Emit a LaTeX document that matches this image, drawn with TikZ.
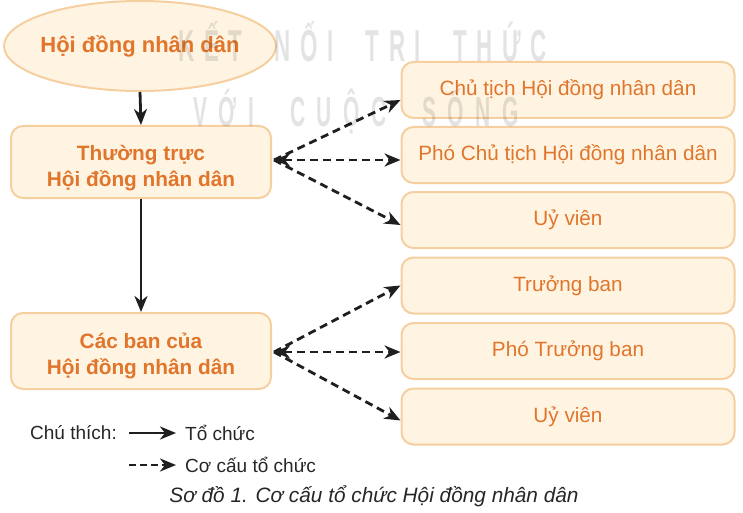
\documentclass[tikz,border=0pt]{standalone}
\usepackage{fontspec}
\setmainfont{Liberation Sans}
\usetikzlibrary{arrows.meta,shapes.geometric,calc}
\definecolor{boxfill}{HTML}{FFF4E2}
\definecolor{boxline}{HTML}{F5CFA0}
\definecolor{txtor}{HTML}{E0752B}
\newcommand{\wmgap}{\hspace{19pt}}
\newcommand{\wmword}{\hspace{65pt}}
\newcommand{\wmgapb}{\hspace{23pt}}
\newcommand{\wmwordb}{\hspace{72pt}}
\tikzset{
  lbox/.style={draw=boxline, line width=2pt, fill=boxfill, rounded corners=12pt,
    minimum width=260pt, align=center, text=txtor, font=\fontsize{20.8}{26}\selectfont\bfseries},
  rbox/.style={draw=boxline, line width=2pt, fill=boxfill, rounded corners=12pt,
    minimum width=333pt, minimum height=56pt, text=txtor, font=\fontsize{20.7}{24}\selectfont},
  tip/.tip={Stealth[length=16pt,width=13pt,inset=5pt]},
  orgarrow/.style={line width=2.8pt, draw=black!88, -tip},
  cauarrow/.style={line width=2.8pt, draw=black!88, dash pattern=on 8pt off 5pt, -tip},
  legtext/.style={anchor=west, text=black!85, font=\fontsize{19}{22}\selectfont, inner sep=0pt},
  wmtext/.style={anchor=base, text=black, text opacity=0.11, inner sep=0pt, font=\bfseries}
}
\begin{document}
\begin{tikzpicture}[x=1pt,y=-1pt]
\useasboundingbox (0,0) rectangle (743,513);
% nodes
\node[ellipse, draw=boxline, line width=2pt, fill=boxfill, inner xsep=-12pt, inner ysep=0pt,
  minimum width=272pt, minimum height=90pt, text=txtor,
  font=\fontsize{22}{25}\selectfont\bfseries] (hd) at (140,46) {Hội đồng nhân dân};
\node[lbox, minimum height=72pt] (tt) at (141,162) {\rule{0pt}{28pt}Thường trực\\Hội đồng nhân dân};
\node[lbox, minimum height=76pt] (cb) at (141,351) {\rule{0pt}{25pt}Các ban của\\Hội đồng nhân dân};
\node[rbox] (r1) at (568,90) {Chủ tịch Hội đồng nhân dân};
\node[rbox] (r2) at (568,155) {Phó Chủ tịch Hội đồng nhân dân};
\node[rbox] (r3) at (568,220) {Uỷ viên};
\node[rbox] (r4) at (568,285.5) {Trưởng ban};
\node[rbox] (r5) at (568,351) {Phó Trưởng ban};
\node[rbox] (r6) at (568,416.5) {Uỷ viên};
% solid arrows
\draw[orgarrow] (hd.south) -- (tt.north);
\draw[orgarrow] (tt.south) -- (cb.north);
% dashed arrows
\coordinate (o1) at ([xshift=2pt,yshift=2pt]tt.east);
\coordinate (o2) at ([xshift=2pt,yshift=-1pt]cb.east);
\draw[cauarrow] (o1) -- ([yshift=-10pt]r1.west);
\draw[cauarrow, tip-tip] (o1) -- (r2.west |- o1);
\draw[cauarrow] (o1) -- ([yshift=-5pt]r3.west);
\draw[cauarrow] (o2) -- (r4.west);
\draw[cauarrow, tip-tip] (o2) -- (r5.west |- o2);
\draw[cauarrow] (o2) -- ([yshift=-4pt]r6.west);
% legend
\node[legtext] (ct) at (30,433) {Chú thích:};
\coordinate (l1a) at (129,433);
\coordinate (l1b) at (176,433);
\coordinate (l2a) at (129,465);
\coordinate (l2b) at (176,465);
\draw[orgarrow] (l1a) -- (l1b);
\draw[cauarrow, dash pattern=on 7pt off 4pt] (l2a) -- (l2b);
\node[legtext] (t1) at (185,433) {Tổ chức};
\node[legtext] (t2) at (185,465) {Cơ cấu tổ chức};
% caption
\node[text=black!85, font=\fontsize{20.8}{24}\selectfont\itshape, inner sep=0pt] (cap) at (374,496) {Sơ đồ 1. Cơ cấu tổ chức Hội đồng nhân dân};
% watermark
\node[wmtext] (wm1) at (362.5,62) {\scalebox{0.5}[1]{\fontsize{44.7}{48}\selectfont K\wmgap Ế\wmgap T\wmword N\wmgap Ố\wmgap I\wmword T\wmgap R\wmgap I\wmword T\wmgap H\wmgap Ứ\wmgap C}};
\node[wmtext] (wm2) at (356,127) {\scalebox{0.5}[1]{\fontsize{42}{46}\selectfont V\wmgapb Ớ\wmgapb I\wmwordb C\wmgapb U\wmgapb Ộ\wmgapb C\wmwordb S\wmgapb Ố\wmgapb N\wmgapb G}};
\end{tikzpicture}
\end{document}
